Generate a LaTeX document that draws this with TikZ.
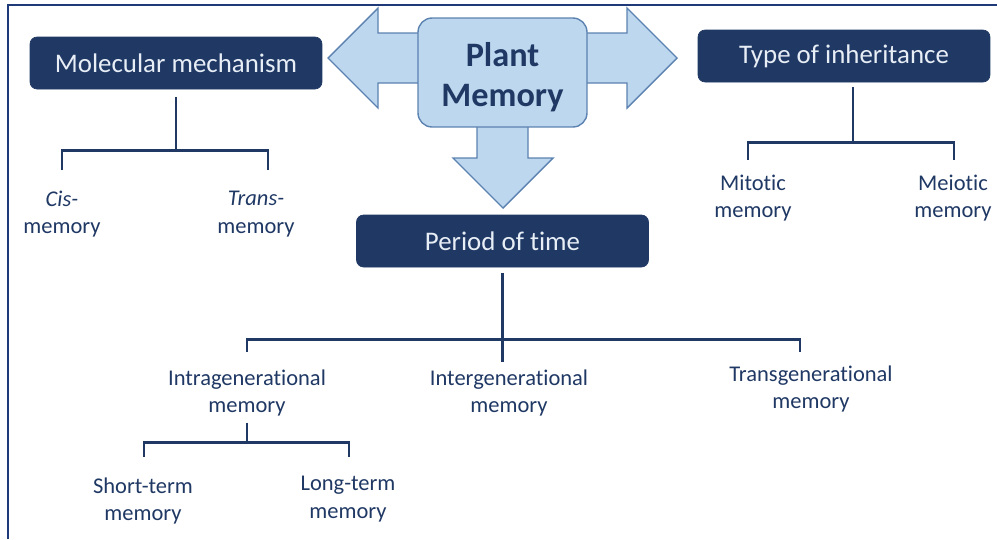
\documentclass[tikz,border=0pt]{standalone}
\usepackage{fontspec}
\setmainfont[Ligatures=NoCommon]{Carlito}
\usetikzlibrary{positioning}
\definecolor{navy}{HTML}{1F3864}
\definecolor{paleblue}{HTML}{BDD7EE}
\definecolor{edgeblue}{HTML}{5B82B0}
\definecolor{framecol}{HTML}{1F3A78}
\definecolor{boxtext}{HTML}{E8EEF6}

\begin{document}
\begin{tikzpicture}[
    x=0.02cm, y=-0.02cm,
    catbox/.style={draw=navy, fill=navy, rounded corners=4pt, text=boxtext,
                   font=\fontsize{15.3}{18}\selectfont,
                   minimum width=5.84cm, minimum height=1.04cm, inner sep=0pt},
    rootbox/.style={draw=edgeblue, fill=paleblue, rounded corners=8pt, text=navy,
                    font=\fontsize{19.5}{23}\selectfont\bfseries, align=center,
                    minimum width=3.38cm, minimum height=2.18cm, line width=0.8pt},
    leaf/.style={text=navy, align=center, inner sep=0pt,
                 font=\fontsize{12.8}{15.6}\selectfont},
    bigarrow/.style={draw=edgeblue, fill=paleblue, line width=0.8pt},
    tree/.style={draw=navy, line width=1.6pt}
]
\useasboundingbox (0,0) rectangle (997,539);

% --- frame ---
\draw[framecol, line width=1pt] (8,539) -- (8,5) -- (997,5);

% --- block arrows out of the root ---
\filldraw[bigarrow] (430,33) -- (378,33) -- (378,8) -- (328,58)
    -- (378,108) -- (378,83) -- (430,83) -- cycle;
\filldraw[bigarrow] (575,33) -- (627,33) -- (627,8) -- (677,58)
    -- (627,108) -- (627,83) -- (575,83) -- cycle;
\filldraw[bigarrow] (477,115) -- (477,158) -- (453,158) -- (503,208)
    -- (553,158) -- (528,158) -- (528,115) -- cycle;

\node[rootbox] (plant) at (502.5,72.5) {\rule{0pt}{19pt}Plant\\Memory};

% --- category boxes ---
\node[catbox] (mol) at (176,63) {Molecular mechanism};
\node[catbox] (inherit) at (844,56) {Type of inheritance};
\node[catbox] (period) at (502.5,241) {Period of time};

% --- molecular mechanism ---
\coordinate (cistop) at (62,170);
\coordinate (transtop) at (268,170);
\draw[tree] (mol.south) ++(0,8) -- ++(0,53) coordinate (molj);
\draw[tree] (cistop) |- (molj) -| (transtop);
\node[leaf] (cis) at (62,214) {\textit{Cis-}\\memory};
\node[leaf] (trans) at (256,214) {\textit{Trans-}\\memory};

% --- type of inheritance ---
\coordinate (mitotop) at (748,160);
\coordinate (meiotop) at (954,160);
\draw[tree] (inherit.south) ++(9,5) -- ++(0,55) coordinate (inhj);
\draw[tree] (mitotop) |- (inhj) -| (meiotop);
\node[leaf] (mitotic) at (753,198) {Mitotic\\memory};
\node[leaf] (meiotic) at (953,198) {Meiotic\\memory};

% --- period of time ---
\coordinate (intratop) at (247,352);
\coordinate (intertop) at (502.5,362);
\coordinate (transgtop) at (800,352);
\draw[tree] (period.south) ++(0,6) -- ++(0,66) coordinate (perj);
\draw[tree] (intratop) |- (perj) -| (transgtop);
\draw[tree] (perj) -- (intertop);
\node[leaf] (intra) at (247,393) {Intragenerational\\memory};
\node[leaf] (inter) at (509,393) {Intergenerational\\memory};
\node[leaf] (transg) at (811,389) {Transgenerational\\memory};

% --- intragenerational split ---
\coordinate (shorttop) at (144,457);
\coordinate (longtop) at (349,457);
\draw[tree] (intra.south) ++(0,6) -- ++(0,20) coordinate (intraj);
\draw[tree] (shorttop) |- (intraj) -| (longtop);
\node[leaf] (short) at (143,501) {Short-term\\memory};
\node[leaf] (long) at (348,499) {Long-term\\memory};

\end{tikzpicture}
\end{document}
